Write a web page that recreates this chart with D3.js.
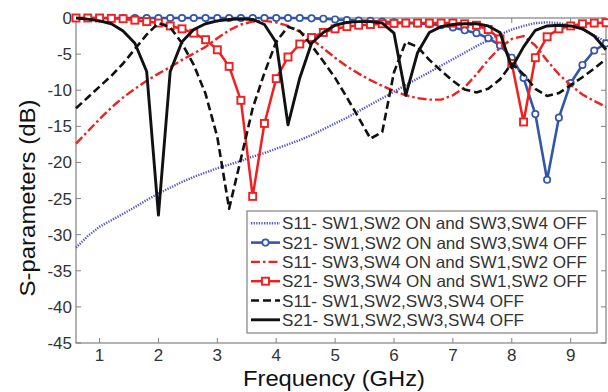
<!DOCTYPE html>
<html>
<head>
<meta charset="utf-8">
<script src="https://cdn.jsdelivr.net/npm/d3@7"></script>
<style>
  body { margin: 0; background: #fff; }
  svg { display: block; font-family: "Liberation Sans", Arial, sans-serif; }
</style>
</head>
<body>
<svg id="chart" width="608" height="392"></svg>
<script>
// frequency samples (GHz)
const freq = [0.6, 0.8, 1.0, 1.2, 1.4, 1.6, 1.8, 2.0, 2.2, 2.4, 2.6, 2.8, 3.0, 3.2, 3.4, 3.6,
  3.8, 4.0, 4.2, 4.4, 4.6, 4.8, 5.0, 5.2, 5.4, 5.6, 5.8, 6.0, 6.2, 6.4, 6.6, 6.8, 7.0, 7.2,
  7.4, 7.6, 7.8, 8.0, 8.2, 8.4, 8.6, 8.8, 9.0, 9.2, 9.4, 9.6];

// S11 - SW1,SW2 ON and SW3,SW4 OFF (blue dotted)
const s11On12 = [-31.8, -30.2, -28.9, -28.0, -27.1, -26.2, -25.2, -24.3, -23.5, -22.7, -22.0,
  -21.4, -20.8, -20.3, -19.8, -19.2, -18.7, -18.1, -17.5, -16.9, -16.2, -15.4, -14.6, -13.8,
  -12.9, -12.0, -11.1, -10.2, -9.3, -8.4, -7.5, -6.6, -5.7, -4.8, -3.9, -3.1, -2.3, -1.6,
  -1.1, -0.7, -0.6, -0.7, -1.0, -1.6, -2.4, -3.3];
// S21 - SW1,SW2 ON and SW3,SW4 OFF (blue circles)
const s21On12 = [0, 0, 0, 0, 0, 0, 0, 0, 0, 0, 0, 0, 0, 0, 0, 0, 0, 0, 0, 0, -0.05, -0.1, -0.2,
  -0.3, -0.35, -0.4, -0.5, -0.6, -0.65, -0.75, -0.85, -1.0, -1.3, -1.7, -2.1, -2.8, -3.8,
  -5.5, -8.3, -13.3, -22.4, -13.8, -9.0, -6.5, -4.5, -3.5];
// S11 - SW3,SW4 ON and SW1,SW2 OFF (red dash-dot)
const s11On34 = [-17.4, -15.7, -14.0, -12.4, -11.0, -9.8, -8.7, -7.7, -6.8, -5.8, -4.9, -4.0,
  -2.8, -1.7, -0.9, -0.5, -0.4, -0.6, -1.1, -1.9, -2.9, -4.2, -5.5, -6.7, -7.7, -8.6, -9.4,
  -10.1, -10.7, -11.1, -11.3, -11.3, -10.7, -9.6, -7.8, -5.8, -4.1, -2.9, -2.5, -3.8, -5.9,
  -7.8, -9.3, -10.6, -11.5, -12.3];
// S21 - SW3,SW4 ON and SW1,SW2 OFF (red squares)
const s21On34 = [0, 0, 0, -0.05, -0.1, -0.3, -0.5, -0.7, -1.1, -1.5, -2.1, -3.0, -4.4, -6.7,
  -11.4, -24.7, -14.6, -8.4, -5.4, -3.6, -2.7, -2.0, -1.5, -1.2, -1.0, -0.9, -0.8, -0.75,
  -0.7, -0.7, -0.7, -0.7, -0.7, -0.8, -1.0, -1.6, -2.9, -6.3, -14.4, -5.5, -2.6, -1.5, -1.1,
  -0.8, -0.7, -0.65];
// S11 - all switches OFF (black dashed)
const s11Off = [-12.5, -11.0, -9.5, -8.0, -6.3, -4.3, -2.3, -0.7, -1.3, -3.5, -6.5, -10.5,
  -16.5, -26.4, -19.5, -12.5, -7.6, -3.3, -1.2, -1.8, -3.8, -6.0, -8.3, -11.0, -13.8, -16.7,
  -15.8, -7.5, -3.3, -4.0, -5.8, -7.3, -8.7, -9.9, -10.3, -9.8, -8.5, -6.3, -7.8, -9.8, -10.8,
  -10.4, -9.3, -8.2, -7.0, -5.7];
// S21 - all switches OFF (black solid)
const s21Off = [0, -0.15, -0.4, -0.8, -1.8, -3.5, -7.4, -27.3, -7.4, -3.3, -1.6, -0.8, -0.4,
  -0.2, -0.1, -0.2, -0.9, -3.4, -14.8, -8.3, -3.5, -2.0, -1.0, -0.6, -0.5, -0.5, -0.7, -2.1,
  -10.7, -4.8, -2.0, -1.2, -0.9, -0.8, -0.8, -1.1, -2.0, -6.9, -4.0, -1.7, -1.1, -1.0, -1.1,
  -1.5, -2.5, -4.4];

const xTicks = [1, 2, 3, 4, 5, 6, 7, 8, 9];
const yTicks = [0, -5, -10, -15, -20, -25, -30, -35, -40, -45];
const legendLabels = [
  'S11- SW1,SW2 ON and SW3,SW4 OFF',
  'S21- SW1,SW2 ON and SW3,SW4 OFF',
  'S11- SW3,SW4 ON and SW1,SW2 OFF',
  'S21- SW3,SW4 ON and SW1,SW2 OFF',
  'S11- SW1,SW2,SW3,SW4 OFF',
  'S21- SW1,SW2,SW3,SW4 OFF'
];

const series = [
  { values: s11On12, color: '#5656cc', width: 2.4, dash: '1.3,1.3', marker: null },
  { values: s21On12, color: '#3456a8', width: 2.6, dash: null, marker: 'circle' },
  { values: s11On34, color: '#f02020', width: 2.4, dash: '9,3,2.5,3', marker: null },
  { values: s21On34, color: '#f02020', width: 2.5, dash: null, marker: 'square' },
  { values: s11Off, color: '#111', width: 2.6, dash: '8,4', marker: null },
  { values: s21Off, color: '#111', width: 2.9, dash: null, marker: null }
];

const svg = d3.select('#chart');
const plotLeft = 76, plotRight = 606, plotTop = 18, plotBottom = 343;

const x = d3.scaleLinear().domain([0.6, 9.6]).range([plotLeft, plotRight]);
const y = d3.scaleLinear().domain([-45, 0]).range([plotBottom, plotTop]);

const axisColor = '#808080';
const textColor = '#333';

// box
svg.append('rect')
  .attr('x', plotLeft).attr('y', plotTop)
  .attr('width', plotRight - plotLeft).attr('height', plotBottom - plotTop)
  .attr('fill', 'none').attr('stroke', axisColor).attr('stroke-width', 1.2);

// ticks (inside, all four sides)
const tickG = svg.append('g').attr('stroke', axisColor).attr('stroke-width', 1);
xTicks.forEach(t => {
  tickG.append('line').attr('x1', x(t)).attr('x2', x(t)).attr('y1', plotBottom).attr('y2', plotBottom - 5);
  tickG.append('line').attr('x1', x(t)).attr('x2', x(t)).attr('y1', plotTop).attr('y2', plotTop + 5);
});
yTicks.forEach(t => {
  tickG.append('line').attr('x1', plotLeft).attr('x2', plotLeft + 5).attr('y1', y(t)).attr('y2', y(t));
  tickG.append('line').attr('x1', plotRight).attr('x2', plotRight - 5).attr('y1', y(t)).attr('y2', y(t));
});

// tick labels
svg.append('g').selectAll('text').data(xTicks).enter().append('text')
  .attr('x', d => x(d)).attr('y', 361)
  .attr('text-anchor', 'middle')
  .attr('font-size', 17).attr('fill', textColor)
  .text(d => d);
svg.append('g').selectAll('text').data(yTicks).enter().append('text')
  .attr('x', 72).attr('y', d => y(d) + 6)
  .attr('text-anchor', 'end')
  .attr('font-size', 17).attr('fill', textColor)
  .text(d => d);

// axis titles
svg.append('text')
  .attr('x', 334).attr('y', 386)
  .attr('text-anchor', 'middle')
  .attr('font-size', 22).attr('fill', '#111')
  .attr('textLength', 182).attr('lengthAdjust', 'spacingAndGlyphs')
  .text('Frequency (GHz)');
svg.append('text')
  .attr('transform', 'translate(35,198) rotate(-90)')
  .attr('text-anchor', 'middle')
  .attr('font-size', 22).attr('fill', '#111')
  .attr('textLength', 197).attr('lengthAdjust', 'spacingAndGlyphs')
  .text('S-parameters (dB)');

// curves
const line = d3.line()
  .x((d, i) => x(freq[i]))
  .y(d => y(d));

const plotG = svg.append('g');

function drawMarkers(g, s, points) {
  if (s.marker === 'circle') {
    g.selectAll('circle').data(points).enter().append('circle')
      .attr('cx', d => d[0]).attr('cy', d => d[1]).attr('r', 3.2)
      .attr('fill', '#fff').attr('stroke', s.color).attr('stroke-width', 1.7);
  } else if (s.marker === 'square') {
    g.selectAll('rect').data(points).enter().append('rect')
      .attr('x', d => d[0] - 3.5).attr('y', d => d[1] - 3.5)
      .attr('width', 7).attr('height', 7)
      .attr('fill', '#fff').attr('stroke', s.color).attr('stroke-width', 1.9);
  }
}

series.forEach(s => {
  const g = plotG.append('g');
  g.append('path')
    .datum(s.values)
    .attr('d', line)
    .attr('fill', 'none')
    .attr('stroke', s.color)
    .attr('stroke-width', s.width)
    .attr('stroke-dasharray', s.dash)
    .attr('stroke-linejoin', 'round');
  if (s.marker) {
    drawMarkers(g, s, s.values.map((v, i) => [x(freq[i]), y(v)]));
  }
});

// legend
const legX = 247, legY = 211, legW = 350, legH = 122;
const legend = svg.append('g');
legend.append('rect')
  .attr('x', legX).attr('y', legY).attr('width', legW).attr('height', legH)
  .attr('fill', '#fff').attr('stroke', axisColor).attr('stroke-width', 1.2);

legendLabels.forEach((label, i) => {
  const s = series[i];
  const cy = 223.3 + i * 19.3;
  const g = legend.append('g');
  g.append('line')
    .attr('x1', 251).attr('x2', 280).attr('y1', cy).attr('y2', cy)
    .attr('stroke', s.color).attr('stroke-width', s.width)
    .attr('stroke-dasharray', s.dash);
  if (s.marker) drawMarkers(g, s, [[265.5, cy]]);
  g.append('text')
    .attr('x', 282).attr('y', cy + 6)
    .attr('font-size', 16.5).attr('fill', textColor)
    .attr('textLength', i < 4 ? 305 : 242).attr('lengthAdjust', 'spacingAndGlyphs')
    .text(label);
});
</script>
</body>
</html>
